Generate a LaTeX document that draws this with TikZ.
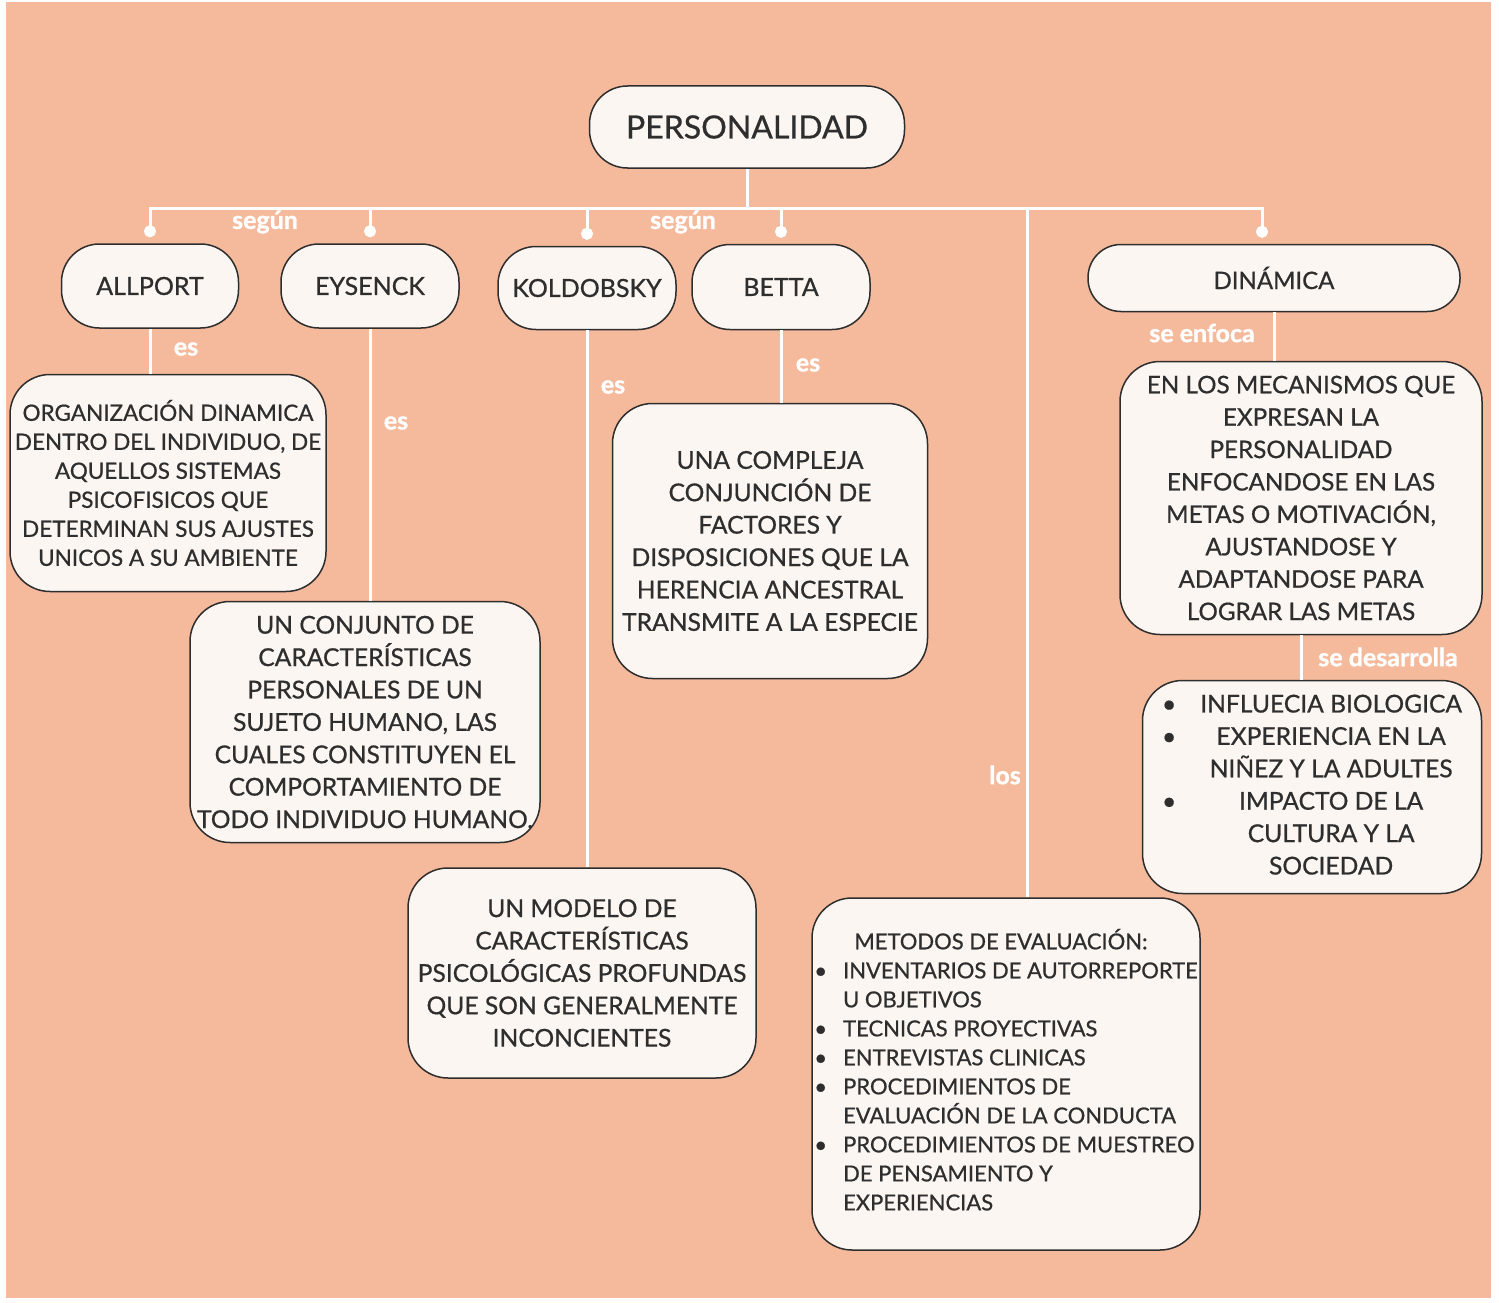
\documentclass[tikz,border=0pt]{standalone}
\usepackage{fontspec}
\setmainfont{Lato}
\newfontfamily\medium{Lato}[FakeBold=0.7]
\newfontfamily\heavy{Lato}[BoldFeatures={FakeBold=1.2}]
\usetikzlibrary{arrows.meta}
\definecolor{peach}{HTML}{F5B99B}
\definecolor{cream}{HTML}{FBF6F1}
\definecolor{ink}{HTML}{2E2E2E}
\tikzset{
  box/.style={draw=ink, line width=1.5pt, fill=cream, text=ink, align=center,
    inner sep=0pt, rounded corners=38pt},
  namebox/.style={box, font=\medium\fontsize{25}{30}\selectfont},
  descbox/.style={box, font=\medium\fontsize{24.6}{32.4}\selectfont},
  smallbox/.style={box, font=\medium\fontsize{22.5}{29}\selectfont},
  conn/.style={draw=white, line width=3pt},
  dot/.style={-{Circle[length=12pt,width=12pt]}, shorten >=6pt},
  lbl/.style={text=white, font=\heavy\bfseries\fontsize{25}{25}\selectfont, inner sep=0pt},
}
\begin{document}
\begin{tikzpicture}[x=1pt, y=-1pt]
  % background
  \fill[white] (0,0) rectangle (1499,1303);
  \fill[peach] (6,2) rectangle (1491,1298);
  % top node and authors
  \draw
    (747,127) node[box, font=\medium\fontsize{32}{36}\selectfont, minimum width=315pt, minimum height=82pt] (personalidad) {PERSONALIDAD}
    (150,286) node[namebox, minimum width=177pt, minimum height=84pt] (allport) {ALLPORT}
    (370,286) node[namebox, minimum width=178pt, minimum height=84pt] (eysenck) {EYSENCK}
    (587,288) node[namebox, minimum width=178pt, minimum height=83pt] (koldobsky) {KOLDOBSKY}
    (781,287) node[namebox, minimum width=178pt, minimum height=85pt] (betta) {BETTA}
    (1274,278) node[namebox, rounded corners=33pt, font=\medium\fontsize{24}{30}\selectfont, minimum width=372pt, minimum height=67pt] (dinamica) {DINÁMICA};
  % definitions
  \draw
    (168,483) node[smallbox, rounded corners=40pt, minimum width=316pt, minimum height=217pt] (organizacion)
      {ORGANIZACIÓN DINAMICA\\DENTRO DEL INDIVIDUO, DE\\AQUELLOS SISTEMAS\\PSICOFISICOS QUE\\DETERMINAN SUS AJUSTES\\UNICOS A SU AMBIENTE}
    (365,722) node[descbox, rounded corners=40pt, minimum width=350pt, minimum height=241pt] (conjunto)
      {UN CONJUNTO DE\\CARACTERÍSTICAS\\PERSONALES DE UN\\SUJETO HUMANO, LAS\\CUALES CONSTITUYEN EL\\COMPORTAMIENTO DE\\TODO INDIVIDUO HUMANO.}
    (582,973) node[descbox, rounded corners=40pt, minimum width=348pt, minimum height=210pt] (modelo)
      {UN MODELO DE\\CARACTERÍSTICAS\\PSICOLÓGICAS PROFUNDAS\\QUE SON GENERALMENTE\\INCONCIENTES}
    (770,541) node[descbox, rounded corners=40pt, minimum width=315pt, minimum height=275pt] (compleja)
      {UNA COMPLEJA\\CONJUNCIÓN DE\\FACTORES Y\\DISPOSICIONES QUE LA\\HERENCIA ANCESTRAL\\TRANSMITE A LA ESPECIE}
    (1301,498) node[descbox, font=\medium\fontsize{24.2}{32.4}\selectfont, rounded corners=40pt, minimum width=362pt, minimum height=273pt] (mecanismos)
      {EN LOS MECANISMOS QUE\\EXPRESAN LA\\PERSONALIDAD\\ENFOCANDOSE EN LAS\\METAS O MOTIVACIÓN,\\AJUSTANDOSE Y\\ADAPTANDOSE PARA\\LOGRAR LAS METAS}
    (1312,787) node[descbox, rounded corners=40pt, minimum width=339pt, minimum height=213pt] (influencia)
      {\begin{tabular}{@{}c@{\hspace{24pt}}c@{}}
        • & INFLUECIA BIOLOGICA\\
        • & EXPERIENCIA EN LA\\
          & NIÑEZ Y LA ADULTES\\
        • & IMPACTO DE LA\\
          & CULTURA Y LA\\
          & SOCIEDAD
      \end{tabular}}
    (1006,1074) node[smallbox, font=\medium\fontsize{22}{29}\selectfont, rounded corners=40pt, minimum width=388pt, minimum height=352pt] (metodos)
      {\begin{tabular}{@{}l@{\hspace{16pt}}l@{}}
        \multicolumn{2}{@{}l@{}}{\hspace{40pt}METODOS DE EVALUACIÓN:}\\
        • & INVENTARIOS DE AUTORREPORTE\\
          & U OBJETIVOS\\
        • & TECNICAS PROYECTIVAS\\
        • & ENTREVISTAS CLINICAS\\
        • & PROCEDIMIENTOS DE\\
          & EVALUACIÓN DE LA CONDUCTA\\
        • & PROCEDIMIENTOS DE MUESTREO\\
          & DE PENSAMIENTO Y\\
          & EXPERIENCIAS
      \end{tabular}};
  % connectors
  \coordinate (bus) at (747,208);
  \coordinate (lostop) at (1027,208);
  \draw[conn] (personalidad) -- (bus);
  \draw[conn, dot] (bus) -| (allport);
  \draw[conn, dot] (bus) -| (eysenck);
  \draw[conn, dot] (bus) -| (koldobsky);
  \draw[conn, dot] (bus) -| (betta);
  \draw[conn, dot] (bus) -| ([xshift=-12pt]dinamica.north);
  \draw[conn] (allport) -- (allport |- organizacion.north);
  \draw[conn] (eysenck) -- (eysenck |- conjunto.north);
  \draw[conn] (koldobsky) -- (koldobsky |- modelo.north);
  \draw[conn] (betta) -- (betta |- compleja.north);
  \draw[conn] (dinamica) -- (dinamica |- mecanismos.north);
  \draw[conn] (mecanismos) -- (mecanismos |- influencia.north);
  \draw[conn] (lostop) -- (lostop |- metodos.north);
  % connector labels
  \node[lbl] (segun1) at (265,222) {según};
  \node[lbl] (segun2) at (683,222) {según};
  \node[lbl] (es1) at (186,349) {es};
  \node[lbl] (es2) at (396,423) {es};
  \node[lbl] (es3) at (613,387) {es};
  \node[lbl] (es4) at (808,365) {es};
  \node[lbl] (enfoca) at (1202,333) {se enfoca};
  \node[lbl] (desarrolla) at (1388,657) {se desarrolla};
  \node[lbl] (los) at (1005,775) {los};
\end{tikzpicture}
\end{document}
